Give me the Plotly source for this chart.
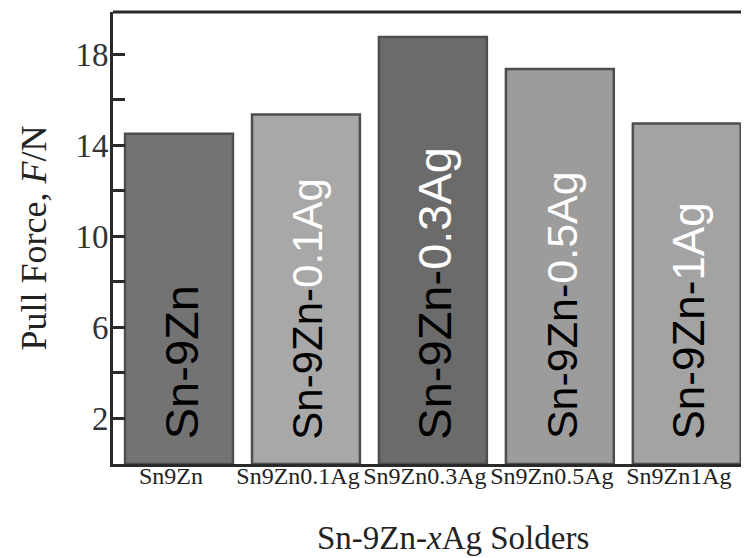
import plotly.graph_objects as go

categories = ["Sn9Zn", "Sn9Zn0.1Ag", "Sn9Zn0.3Ag", "Sn9Zn0.5Ag", "Sn9Zn1Ag"]
pull_force = [14.5, 15.35, 18.75, 17.35, 14.95]
bar_base_labels = ["Sn-9Zn", "Sn-9Zn-", "Sn-9Zn-", "Sn-9Zn-", "Sn-9Zn-"]
bar_ag_labels = ["", "0.1Ag", "0.3Ag", "0.5Ag", "1Ag"]
y_tick_vals = [2, 4, 6, 8, 10, 12, 14, 16, 18]
y_tick_text = ["2", "", "6", "", "10", "", "14", "", "18"]

# styles
bar_colors = ["#737373", "#a8a8a8", "#6b6b6b", "#9c9c9c", "#a3a3a3"]
label_sizes = [47, 42, 47, 43, 44]

SERIF = "Liberation Serif, Times New Roman, serif"
SANS = "Liberation Sans, Arial, sans-serif"

fig = go.Figure()
fig.add_trace(go.Bar(
    x=categories,
    y=pull_force,
    width=0.85,
    marker=dict(color=bar_colors, line=dict(color="#4d4d4d", width=2.5)),
    showlegend=False,
))

for cat, base, ag, fs in zip(categories, bar_base_labels, bar_ag_labels, label_sizes):
    txt = f'<span style="color:#000000">{base}</span>'
    if ag:
        txt += f'<span style="color:#ffffff">{ag}</span>'
    fig.add_annotation(
        x=cat, y=1.0, xref="x", yref="y",
        text=txt, textangle=-90, showarrow=False,
        xanchor="center", yanchor="bottom", xshift=2,
        font=dict(family=SANS, size=fs, color="#000000"),
    )

fig.add_annotation(
    x=0.535, y=-0.164, xref="paper", yref="paper", text="Sn-9Zn-<i>x</i>Ag Solders",
    showarrow=False, xanchor="center", yanchor="middle",
    font=dict(family=SERIF, size=33, color="#222222"),
)

# page body adds an 8px offset, so the figure is sized to fit the 749x558 window
fig.update_layout(
    width=741, height=550,
    margin=dict(l=105, r=0, t=4, b=94),
    plot_bgcolor="white", paper_bgcolor="white",
    xaxis=dict(
        type="category", range=[-0.52, 4.49], automargin=False,
        showline=True, linecolor="#2a2a2a", linewidth=3,
        ticks="", tickangle=0, ticklabelshift=-8, ticklabelstandoff=-12,
        tickfont=dict(family=SERIF, size=24, color="#222222"),
        showgrid=False, zeroline=False,
    ),
    yaxis=dict(
        range=[0, 19.85], automargin=False,
        showline=True, linecolor="#2a2a2a", linewidth=3,
        ticks="inside", ticklen=12, tickwidth=2.5, tickcolor="#2a2a2a",
        tickvals=y_tick_vals, ticktext=y_tick_text,
        tickfont=dict(family=SERIF, size=33, color="#333333"),
        ticklabelstandoff=-5,
        showgrid=False, zeroline=False,
        title=dict(text="Pull Force, <i>F</i>/N", standoff=18,
                   font=dict(family=SERIF, size=36, color="#222222")),
    ),
)

fig.add_shape(type="line", xref="paper", yref="paper", x0=0, x1=1.05, y0=1, y1=1,
              line=dict(color="#2a2a2a", width=3))

fig.write_html("out.html")
